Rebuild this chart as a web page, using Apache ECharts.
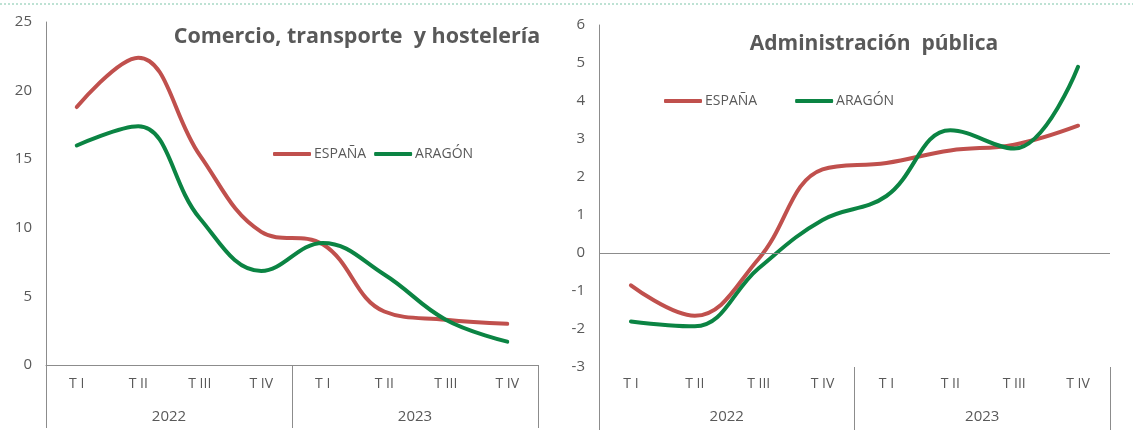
<!DOCTYPE html>
<html>
<head>
<meta charset="utf-8">
<script src="https://cdn.jsdelivr.net/npm/echarts@6/dist/echarts.min.js"></script>
<style>
html, body { margin: 0; padding: 0; background: #fff; }
#chart { width: 1133px; height: 438px; }
</style>
</head>
<body>
<div id="chart"></div>
<script>
// categorías
var trimestres = ['T I', 'T II', 'T III', 'T IV', 'T I', 'T II', 'T III', 'T IV']
var years = ['2022', '2023']
// Comercio, transporte y hostelería
var comercioEspana = [18.8, 22.4, 15.3, 9.7, 8.8, 3.9, 3.3, 3.0]
var comercioAragon = [16.0, 17.4, 10.7, 6.85, 8.9, 6.6, 3.3, 1.7]
// Administración pública
var adminEspana = [-0.85, -1.65, -0.15, 2.2, 2.37, 2.7, 2.85, 3.35]
var adminAragon = [-1.8, -1.93, -0.4, 0.87, 1.5, 3.23, 2.75, 4.9]

var rojo = '#C0504D'
var verde = '#0B8443'
var gris = '#595959'
var lineaGris = '#8c8c8c'
var fuente = 'Open Sans, Liberation Sans, sans-serif'

function quarterAxis(grid) {
    return {
        type: 'category',
        gridIndex: grid,
        data: trimestres,
        position: 'bottom',
        boundaryGap: true,
        axisLine: { show: grid == 0, onZero: false, lineStyle: { color: lineaGris, width: 1 } },
        axisTick: { show: false },
        axisLabel: { color: gris, fontSize: 14, fontFamily: fuente, margin: grid == 0 ? 12 : 10, interval: 0 }
    }
}
function yearAxis(grid) {
    return {
        type: 'category',
        gridIndex: grid,
        data: years,
        position: 'bottom',
        boundaryGap: true,
        axisLine: { show: false, onZero: false },
        axisTick: { show: true, length: 63, interval: 0, lineStyle: { color: lineaGris, width: 1 } },
        axisLabel: { color: gris, fontSize: 15, fontFamily: fuente, margin: grid == 0 ? 44 : 42 }
    }
}
function serie(name, color, x, y, data) {
    return {
        name: name,
        type: 'line',
        xAxisIndex: x,
        yAxisIndex: y,
        smooth: 0.4,
        symbol: 'none',
        lineStyle: { color: color, width: 4, cap: 'round' },
        itemStyle: { color: color },
        data: data
    }
}

var option = {
    animation: false,
    textStyle: { fontFamily: fuente },
    graphic: [{
        type: 'line',
        shape: { x1: 0, y1: 4, x2: 1133, y2: 4 },
        style: { stroke: '#a9d9c6', lineWidth: 1.5, lineDash: [2, 2] }
    }],
    title: [
        {
            text: 'Comercio, transporte  y hostelería',
            left: 352, top: 21, textAlign: 'center',
            textStyle: { color: gris, fontSize: 21.5, fontWeight: 'bold', fontFamily: fuente }
        },
        {
            text: 'Administración  pública',
            left: 869, top: 29, textAlign: 'center',
            textStyle: { color: gris, fontSize: 21, fontWeight: 'bold', fontFamily: fuente }
        }
    ],
    legend: [
        {
            left: 273, top: 147, padding: 0,
            data: ['ESPAÑA', 'ARAGÓN'],
            icon: 'roundRect', itemWidth: 38, itemHeight: 4, itemGap: 8,
            textStyle: { color: gris, fontSize: 14, fontFamily: fuente, padding: [0, 0, 0, -2] }
        },
        {
            left: 664, top: 94, padding: 0,
            data: ['ESPAÑA', 'ARAGÓN'],
            icon: 'roundRect', itemWidth: 38, itemHeight: 4, itemGap: 38,
            textStyle: { color: gris, fontSize: 14, fontFamily: fuente, padding: [0, 0, 0, -2] }
        }
    ],
    grid: [
        { left: 46, right: 595, top: 22, bottom: 73 },
        { left: 599, right: 23, top: 25, bottom: 71 }
    ],
    xAxis: [quarterAxis(0), yearAxis(0), quarterAxis(1), yearAxis(1)],
    yAxis: [
        {
            type: 'value', gridIndex: 0, min: 0, max: 25, interval: 5,
            axisLine: { show: true, lineStyle: { color: lineaGris, width: 1 } },
            axisTick: { show: false },
            splitLine: { show: false },
            axisLabel: { color: gris, fontSize: 15, fontFamily: fuente, margin: 14 }
        },
        {
            type: 'value', gridIndex: 1, min: -3, max: 6, interval: 1,
            axisLine: { show: true, onZero: false, lineStyle: { color: lineaGris, width: 1 } },
            axisTick: { show: false },
            splitLine: { show: false },
            axisLabel: { color: gris, fontSize: 15, fontFamily: fuente, margin: 14 }
        }
    ],
    series: [
        serie('ESPAÑA', rojo, 0, 0, comercioEspana),
        serie('ARAGÓN', verde, 0, 0, comercioAragon),
        Object.assign(serie('ESPAÑA', rojo, 2, 1, adminEspana), {
            markLine: {
                silent: true,
                symbol: 'none',
                label: { show: false },
                lineStyle: { color: lineaGris, width: 1, type: 'solid' },
                data: [{ yAxis: 0 }]
            }
        }),
        serie('ARAGÓN', verde, 2, 1, adminAragon)
    ]
}

var chart = echarts.init(document.getElementById('chart'))
chart.setOption(option)
</script>
</body>
</html>
